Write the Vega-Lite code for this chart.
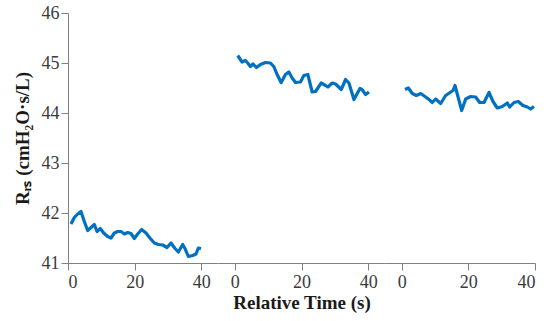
{
  "$schema": "https://vega.github.io/schema/vega-lite/v6.json",
  "padding": {"left": 13, "top": 4, "right": 5, "bottom": 5},
  "background": "white",
  "spacing": 0,
  "bounds": "flush",
  "config": {
    "view": {"stroke": null},
    "font": "Liberation Serif",
    "axis": {
      "domainColor": "#808080",
      "tickColor": "#808080",
      "tickSize": 7,
      "labelFont": "Liberation Serif",
      "labelFontSize": 18,
      "labelColor": "#3a3a3a",
      "titleFont": "Liberation Serif",
      "titleFontSize": 19,
      "titleFontWeight": "bold",
      "titleColor": "#1a1a1a",
      "grid": false
    }
  },
  "data": {
    "values": [
      {"run": 1, "t": 0.9, "rrs": 41.78},
      {"run": 1, "t": 1.9, "rrs": 41.91},
      {"run": 1, "t": 2.9, "rrs": 41.98},
      {"run": 1, "t": 3.9, "rrs": 42.03},
      {"run": 1, "t": 4.9, "rrs": 41.83},
      {"run": 1, "t": 5.9, "rrs": 41.65},
      {"run": 1, "t": 6.9, "rrs": 41.71},
      {"run": 1, "t": 7.9, "rrs": 41.77},
      {"run": 1, "t": 8.7, "rrs": 41.63},
      {"run": 1, "t": 9.7, "rrs": 41.69},
      {"run": 1, "t": 10.7, "rrs": 41.6},
      {"run": 1, "t": 11.9, "rrs": 41.53},
      {"run": 1, "t": 12.9, "rrs": 41.5},
      {"run": 1, "t": 13.9, "rrs": 41.6},
      {"run": 1, "t": 14.9, "rrs": 41.63},
      {"run": 1, "t": 15.9, "rrs": 41.63},
      {"run": 1, "t": 16.9, "rrs": 41.58},
      {"run": 1, "t": 17.9, "rrs": 41.61},
      {"run": 1, "t": 18.9, "rrs": 41.59},
      {"run": 1, "t": 19.9, "rrs": 41.49},
      {"run": 1, "t": 20.9, "rrs": 41.58},
      {"run": 1, "t": 22.1, "rrs": 41.67},
      {"run": 1, "t": 23.4, "rrs": 41.6},
      {"run": 1, "t": 24.7, "rrs": 41.49},
      {"run": 1, "t": 25.9, "rrs": 41.4},
      {"run": 1, "t": 27.1, "rrs": 41.37},
      {"run": 1, "t": 28.4, "rrs": 41.36},
      {"run": 1, "t": 29.7, "rrs": 41.31},
      {"run": 1, "t": 30.9, "rrs": 41.4},
      {"run": 1, "t": 32.1, "rrs": 41.29},
      {"run": 1, "t": 33.1, "rrs": 41.22},
      {"run": 1, "t": 34.4, "rrs": 41.37},
      {"run": 1, "t": 35.1, "rrs": 41.29},
      {"run": 1, "t": 36.1, "rrs": 41.13},
      {"run": 1, "t": 37.4, "rrs": 41.15},
      {"run": 1, "t": 38.4, "rrs": 41.18},
      {"run": 1, "t": 39.1, "rrs": 41.3},
      {"run": 1, "t": 39.9, "rrs": 41.29},
      {"run": 2, "t": 0.9, "rrs": 45.15},
      {"run": 2, "t": 2.2, "rrs": 45.02},
      {"run": 2, "t": 3.2, "rrs": 45.05},
      {"run": 2, "t": 3.9, "rrs": 45.0},
      {"run": 2, "t": 4.7, "rrs": 44.93},
      {"run": 2, "t": 5.5, "rrs": 44.98},
      {"run": 2, "t": 6.5, "rrs": 44.91},
      {"run": 2, "t": 7.7, "rrs": 44.97},
      {"run": 2, "t": 9.2, "rrs": 45.01},
      {"run": 2, "t": 10.7, "rrs": 45.0},
      {"run": 2, "t": 11.7, "rrs": 44.93},
      {"run": 2, "t": 12.7, "rrs": 44.77},
      {"run": 2, "t": 13.9, "rrs": 44.61},
      {"run": 2, "t": 15.2, "rrs": 44.77},
      {"run": 2, "t": 16.2, "rrs": 44.82},
      {"run": 2, "t": 17.2, "rrs": 44.7},
      {"run": 2, "t": 18.2, "rrs": 44.61},
      {"run": 2, "t": 19.7, "rrs": 44.62},
      {"run": 2, "t": 20.7, "rrs": 44.75},
      {"run": 2, "t": 21.9, "rrs": 44.77},
      {"run": 2, "t": 23.2, "rrs": 44.42},
      {"run": 2, "t": 24.2, "rrs": 44.43},
      {"run": 2, "t": 25.9, "rrs": 44.6},
      {"run": 2, "t": 27.2, "rrs": 44.55},
      {"run": 2, "t": 27.9, "rrs": 44.52},
      {"run": 2, "t": 29.2, "rrs": 44.6},
      {"run": 2, "t": 30.2, "rrs": 44.58},
      {"run": 2, "t": 31.9, "rrs": 44.47},
      {"run": 2, "t": 33.2, "rrs": 44.67},
      {"run": 2, "t": 34.2, "rrs": 44.6},
      {"run": 2, "t": 35.7, "rrs": 44.27},
      {"run": 2, "t": 37.5, "rrs": 44.49},
      {"run": 2, "t": 38.1, "rrs": 44.47},
      {"run": 2, "t": 39.2, "rrs": 44.37},
      {"run": 2, "t": 40.2, "rrs": 44.42},
      {"run": 3, "t": 1.0, "rrs": 44.47},
      {"run": 3, "t": 2.0, "rrs": 44.5},
      {"run": 3, "t": 3.2, "rrs": 44.39},
      {"run": 3, "t": 4.4, "rrs": 44.35},
      {"run": 3, "t": 5.7, "rrs": 44.39},
      {"run": 3, "t": 7.2, "rrs": 44.32},
      {"run": 3, "t": 8.2, "rrs": 44.27},
      {"run": 3, "t": 9.2, "rrs": 44.21},
      {"run": 3, "t": 10.2, "rrs": 44.28},
      {"run": 3, "t": 11.7, "rrs": 44.19},
      {"run": 3, "t": 13.2, "rrs": 44.35},
      {"run": 3, "t": 14.5, "rrs": 44.41},
      {"run": 3, "t": 15.4, "rrs": 44.45},
      {"run": 3, "t": 16.0, "rrs": 44.55},
      {"run": 3, "t": 18.0, "rrs": 44.05},
      {"run": 3, "t": 19.2, "rrs": 44.28},
      {"run": 3, "t": 20.7, "rrs": 44.33},
      {"run": 3, "t": 22.2, "rrs": 44.32},
      {"run": 3, "t": 23.4, "rrs": 44.21},
      {"run": 3, "t": 24.7, "rrs": 44.21},
      {"run": 3, "t": 26.2, "rrs": 44.41},
      {"run": 3, "t": 27.4, "rrs": 44.23},
      {"run": 3, "t": 28.7, "rrs": 44.1},
      {"run": 3, "t": 30.2, "rrs": 44.13},
      {"run": 3, "t": 31.7, "rrs": 44.2},
      {"run": 3, "t": 32.4, "rrs": 44.12},
      {"run": 3, "t": 33.7, "rrs": 44.21},
      {"run": 3, "t": 35.0, "rrs": 44.23},
      {"run": 3, "t": 36.4, "rrs": 44.15},
      {"run": 3, "t": 37.7, "rrs": 44.12},
      {"run": 3, "t": 38.7, "rrs": 44.08},
      {"run": 3, "t": 39.7, "rrs": 44.13}
    ]
  },
  "hconcat": [
    {
      "width": 150,
      "height": 250,
      "transform": [{"filter": "datum.run == 1"}],
      "mark": {"type": "line", "color": "#0070C0", "strokeWidth": 3.2, "strokeJoin": "round"},
      "encoding": {
        "x": {"field": "t", "type": "quantitative",
              "scale": {"domain": [0, 45], "nice": false, "zero": false},
              "axis": {"values": [0, 20, 40], "title": null, "labelPadding": 3}},
        "y": {"field": "rrs", "type": "quantitative",
              "scale": {"domain": [41, 46], "nice": false, "zero": false},
              "axis": {"values": [41, 42, 43, 44, 45, 46], "title": "Rᵣₛ (cmH₂O·s/L)", "labelPadding": 2, "titlePadding": 9}}
      }
    },
    {
      "width": 167,
      "height": 250,
      "transform": [{"filter": "datum.run == 2"}],
      "mark": {"type": "line", "color": "#0070C0", "strokeWidth": 3.2, "strokeJoin": "round"},
      "encoding": {
        "x": {"field": "t", "type": "quantitative",
              "scale": {"domain": [-5, 45], "nice": false, "zero": false},
              "axis": {"values": [0, 20, 40], "title": "Relative Time (s)", "labelPadding": 3, "titlePadding": 2}},
        "y": {"field": "rrs", "type": "quantitative",
              "scale": {"domain": [41, 46], "nice": false, "zero": false},
              "axis": null}
      }
    },
    {
      "width": 150,
      "height": 250,
      "transform": [{"filter": "datum.run == 3"}],
      "mark": {"type": "line", "color": "#0070C0", "strokeWidth": 3.2, "strokeJoin": "round"},
      "encoding": {
        "x": {"field": "t", "type": "quantitative",
              "scale": {"domain": [-5, 40], "nice": false, "zero": false},
              "axis": {"values": [0, 20, 40], "title": null, "labelPadding": 3}},
        "y": {"field": "rrs", "type": "quantitative",
              "scale": {"domain": [41, 46], "nice": false, "zero": false},
              "axis": null}
      }
    }
  ]
}
